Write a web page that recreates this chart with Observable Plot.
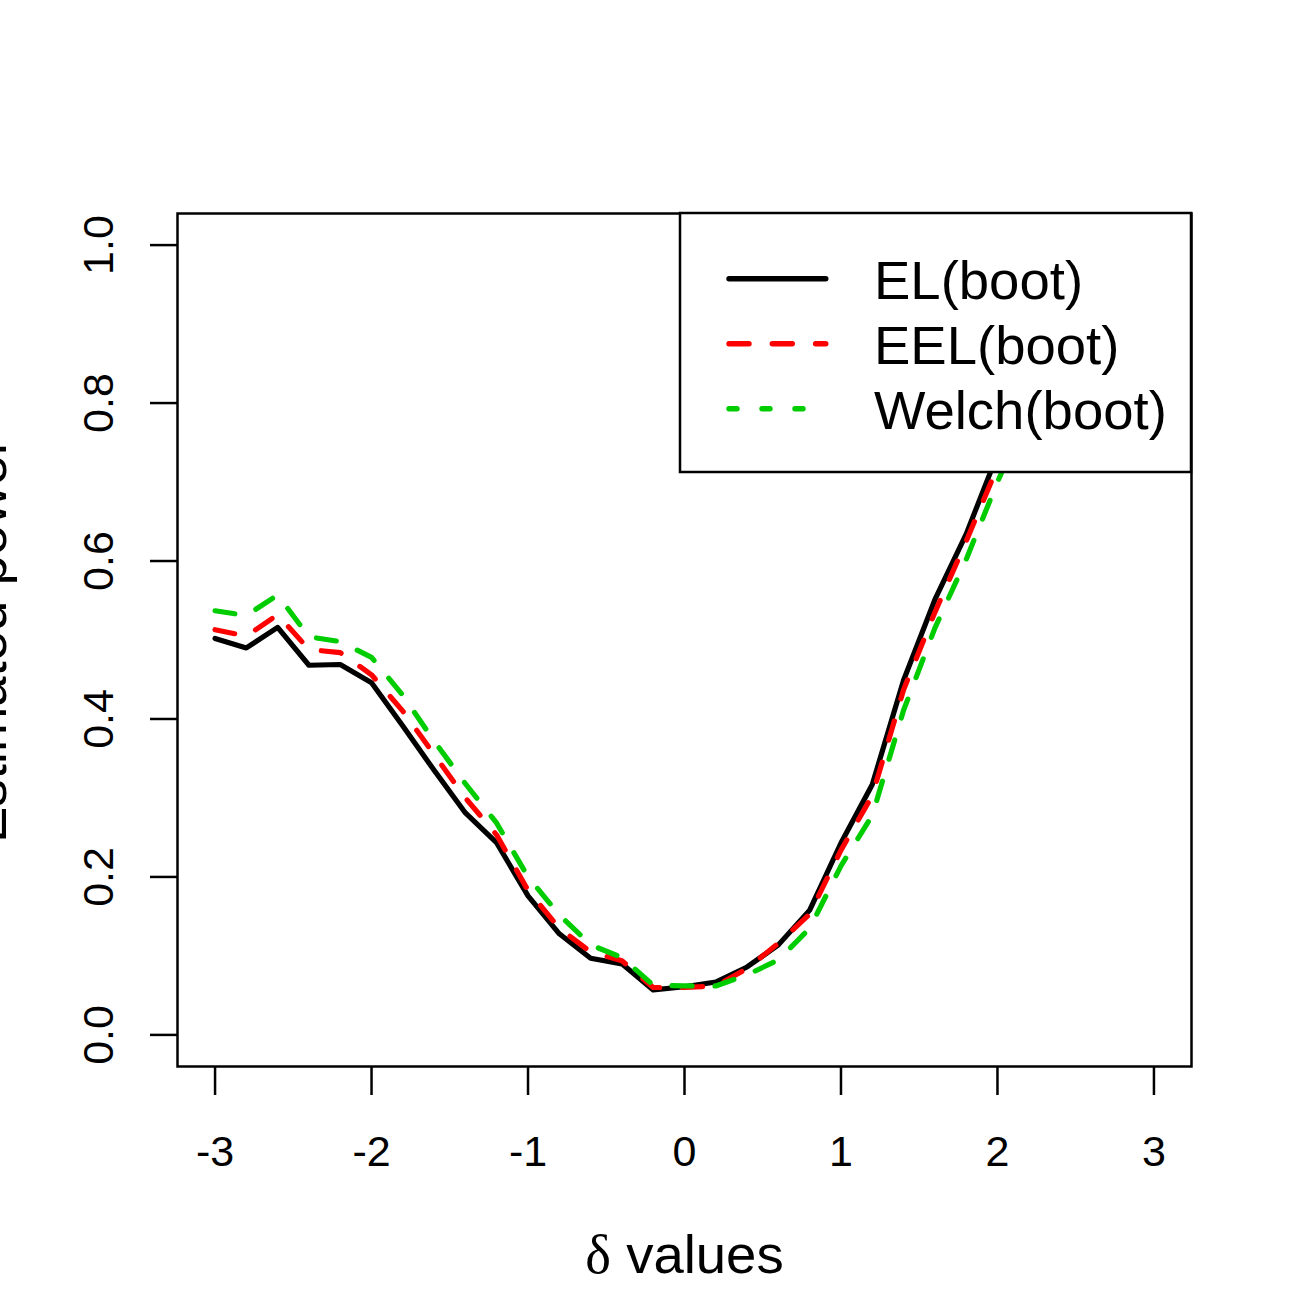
<!DOCTYPE html>
<html><head><meta charset="utf-8">
<script src="https://cdn.jsdelivr.net/npm/d3@7"></script>
<script src="https://cdn.jsdelivr.net/npm/@observablehq/plot@0.6"></script>
<style>
html,body{margin:0;padding:0;background:#fff;}
#chart svg{display:block;}
</style></head><body><div id="chart"></div>
<script>
// ---- data ----
const delta = [-3.0,-2.8,-2.6,-2.4,-2.2,-2.0,-1.8,-1.6,-1.4,-1.2,-1.0,-0.8,-0.6,-0.4,-0.2,0.0,0.2,0.4,0.6,0.8,1.0,1.2,1.4,1.6,1.8,2.0,2.2,2.4,2.6,2.8,3.0];
const elBoot    = [0.502,0.490,0.516,0.468,0.469,0.446,0.391,0.335,0.281,0.243,0.176,0.128,0.097,0.090,0.057,0.061,0.067,0.086,0.114,0.158,0.243,0.317,0.449,0.551,0.634,0.735,0.82,0.88,0.93,0.96,0.98];
const eelBoot   = [0.513,0.505,0.532,0.488,0.484,0.456,0.410,0.355,0.300,0.253,0.183,0.135,0.105,0.094,0.060,0.060,0.062,0.084,0.116,0.153,0.234,0.303,0.437,0.535,0.625,0.719,0.81,0.87,0.92,0.955,0.975];
const welchBoot = [0.537,0.531,0.557,0.504,0.498,0.478,0.430,0.372,0.318,0.268,0.200,0.152,0.114,0.098,0.063,0.062,0.062,0.076,0.095,0.135,0.214,0.278,0.411,0.515,0.602,0.700,0.79,0.86,0.91,0.95,0.97];
const seriesNames  = ["EL(boot)", "EEL(boot)", "Welch(boot)"];
const seriesColors = ["#000000", "#FF0000", "#00CD00"];
const xTicks = [-3, -2, -1, 0, 1, 2, 3];
const yTicks = [0, 0.2, 0.4, 0.6, 0.8, 1.0];
const xLabel = "δ values";
const yLabel = "Estimated power";

// ---- build ----
const rows = (vals, name) => delta.map((d, i) => ({delta: d, power: vals[i], series: name}));
const seriesData = [rows(elBoot, seriesNames[0]), rows(eelBoot, seriesNames[1]), rows(welchBoot, seriesNames[2])];
const plotDash = [null, "20,23", "20,23"];
const legendDash = [null, "20,23.3", "8,25"];

const font = "'Liberation Sans', Arial, Helvetica, sans-serif";
const W = 1306, H = 1299;
const mL = 177, mR = 115, mT = 213, mB = 233;
const labelSize = 54.5;

const lineMarks = seriesData.map((data, i) => Plot.line(data, {
  x: "delta", y: "power", stroke: seriesColors[i], strokeWidth: 5.2,
  strokeLinecap: "round", strokeLinejoin: "round",
  strokeDasharray: plotDash[i] || undefined
}));

const chart = Plot.plot({
  width: W, height: H,
  marginLeft: mL, marginRight: mR, marginTop: mT, marginBottom: mB,
  style: {fontFamily: font, background: "white", color: "black"},
  x: {domain: [-3.24, 3.24]},
  y: {domain: [-0.04, 1.04]},
  marks: [
    ...lineMarks,
    Plot.axisX({ticks: xTicks, tickSize: 29, tickPadding: 39.5, fontSize: 43, strokeWidth: 2.5, label: null, tickFormat: d => String(d)}),
    Plot.axisY({ticks: yTicks, tickSize: 27, tickFormat: () => "", label: null, strokeWidth: 2.5}),
    Plot.text(yTicks, {y: d => d, text: d => d.toFixed(1), frameAnchor: "left", dx: -64.5, rotate: -90, lineAnchor: "bottom", textAnchor: "middle", fontSize: 43, fill: "black"}),
    Plot.text([yLabel], {text: d => d, frameAnchor: "left", dx: -172, rotate: -90, lineAnchor: "bottom", textAnchor: "middle", fontSize: labelSize, fill: "black"}),
    Plot.text([xLabel], {text: d => d, frameAnchor: "bottom", dy: 206.7, lineAnchor: "bottom", textAnchor: "middle", fontSize: labelSize, fill: "black"}),
    Plot.frame({stroke: "black", strokeWidth: 2.5})
  ]
});

// delta symbol in a serif face, like R's symbol font
d3.select(chart).selectAll("text").filter(function() { return this.textContent === xLabel; })
  .each(function() {
    const t = d3.select(this);
    t.text(null);
    t.append("tspan").attr("font-family", "'Liberation Serif', 'DejaVu Serif', serif").text(xLabel.slice(0, 1));
    t.append("tspan").text(xLabel.slice(1));
  });

// legend (topright, white box over the lines)
const svg = d3.select(chart);
const boxW = 511, boxH = 259;
const bx = W - mR - boxW, by = mT;
const lg = svg.append("g").attr("class", "legend").attr("text-anchor", "start");
lg.append("rect").attr("x", bx).attr("y", by).attr("width", boxW).attr("height", boxH)
  .attr("fill", "white").attr("stroke", "black").attr("stroke-width", 2.5);
const rowY = [298.5, 363.5, 428.5];
const segEnd = [825.8, 825.8, 825.8];
seriesNames.forEach((name, i) => {
  const ly = rowY[i] - 19.7;
  lg.append("line").attr("x1", bx + 49).attr("x2", segEnd[i]).attr("y1", ly).attr("y2", ly)
    .attr("stroke", seriesColors[i]).attr("stroke-width", 5.4).attr("stroke-linecap", "round")
    .attr("stroke-dasharray", legendDash[i]);
  lg.append("text").attr("x", bx + 194).attr("y", rowY[i]).attr("font-size", labelSize)
    .attr("text-anchor", "start").attr("font-family", font).attr("fill", "black").text(name);
});

document.getElementById("chart").appendChild(chart);
</script>
</body></html>
